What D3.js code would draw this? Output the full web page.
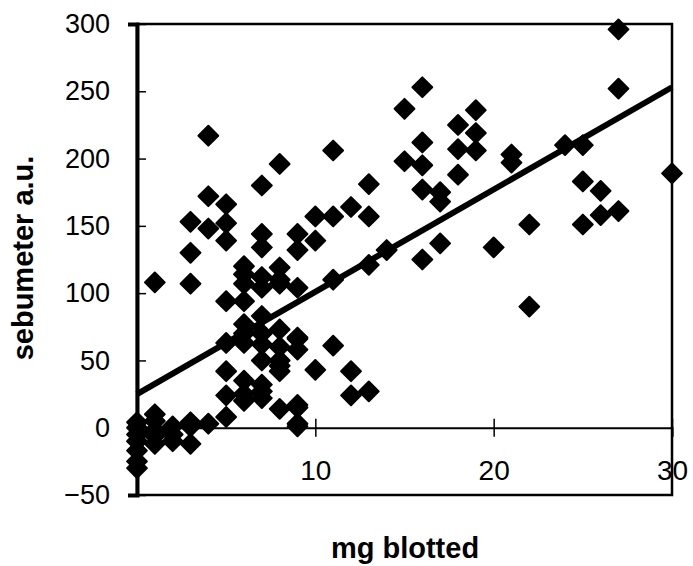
<!DOCTYPE html>
<html>
<head>
<meta charset="utf-8">
<script src="https://cdn.jsdelivr.net/npm/d3@7"></script>
<style>
  body { margin: 0; background: #fff; }
  svg { display: block; }
  text { font-family: "Liberation Sans", Arial, sans-serif; fill: #000; }
</style>
</head>
<body>
<div id="chart"></div>
<script>
// mg blotted (x) vs sebumeter reading (y)
let mgBlotted = [
    4, 8, 7, 4, 5, 3, 4, 5, 5, 3, 7, 7, 9, 9, 10, 10, 11, 12, 13, 13, 11, 1, 3,
    16, 15, 19, 18, 19, 16, 18, 19, 15, 16, 18, 16, 17, 17, 21, 21, 24, 25,
    27, 27, 30, 25, 26, 27, 26, 25, 22, 20, 22, 17, 16, 14, 13, 11,
    6, 6, 7, 8, 8, 9, 5, 6, 6, 8, 7,
    5, 6, 6, 7, 7, 8, 9, 9, 6, 8, 7,
    7, 8, 8, 5, 6, 7, 7, 5, 6, 6, 7, 8, 9, 9, 9, 8,
    10, 11, 12, 12, 13, 9,
    0, 0, 0, 0, 0, 0, 0, 1, 1, 1, 1, 1, 2, 2, 3, 3, 4, 5, 3, 2, 9
];
let sebumeter = [
    217, 196, 180, 172, 166, 153, 148, 152, 139, 130, 144, 134, 144, 132, 139, 157, 157, 164, 157, 181, 206, 108, 107,
    253, 237, 236, 225, 219, 212, 207, 206, 198, 195, 188, 177, 175, 168, 203, 197, 210, 210,
    296, 252, 189, 183, 176, 161, 158, 151, 151, 134, 90, 137, 125, 132, 121, 110,
    120, 107, 104, 119, 110, 104, 94, 94, 114, 107, 112,
    63, 63, 77, 83, 70, 73, 66, 58, 70, 60, 62,
    50, 50, 42, 42, 35, 27, 32, 24, 25, 20, 22, 14, 15, 3, 17, 46,
    43, 61, 42, 24, 27, 67,
    0, -5, -10, -17, -25, -30, 4, 10, 5, -2, -12, -6, 1, -10, 1, -12, 3, 8, 4, -5, 1
];

// fitted line
let fitIntercept = 25;
let fitSlope = 7.6;

let xTicks = [10, 20, 30];
let yTicks = [-50, 0, 50, 100, 150, 200, 250, 300];

let width = 693;
let height = 566;

let svg = d3.select('#chart').append('svg')
    .attr('width', width)
    .attr('height', height);

let xScale = d3.scaleLinear().domain([0, 30]).range([137, 672]);
let yScale = d3.scaleLinear().domain([-50, 300]).range([495, 24]);

// frame (top, right, bottom)
svg.append('rect')
    .attr('x', xScale(0))
    .attr('y', yScale(300))
    .attr('width', xScale(30) - xScale(0))
    .attr('height', yScale(-50) - yScale(300))
    .attr('fill', 'none')
    .attr('stroke', '#000')
    .attr('stroke-width', 2.5);

// x axis sits on y = 0
let xAxis = d3.axisBottom(xScale)
    .tickValues(xTicks)
    .tickSizeOuter(0)
    .tickSize(9)
    .tickPadding(23);

let xG = svg.append('g')
    .attr('transform', 'translate(0,' + yScale(0) + ')')
    .call(xAxis);
xG.select('.domain').attr('stroke', '#000').attr('stroke-width', 2);
xG.selectAll('.tick line').attr('y1', -9).attr('stroke', '#000').attr('stroke-width', 1.5);
xG.selectAll('.tick text')
    .style('font-size', '28px')
    .style('font-family', '"Liberation Sans", Arial, sans-serif')
    .attr('fill', '#000');

let yAxis = d3.axisLeft(yScale)
    .tickValues(yTicks)
    .tickSizeOuter(0)
    .tickSize(9)
    .tickPadding(18);

let yG = svg.append('g')
    .attr('transform', 'translate(' + xScale(0) + ',0)')
    .call(yAxis);
yG.select('.domain').attr('stroke', '#000').attr('stroke-width', 4);
yG.selectAll('.tick line').attr('x2', 9).attr('stroke', '#000').attr('stroke-width', 1.5);
yG.selectAll('.tick text')
    .style('font-size', '27px')
    .style('font-family', '"Liberation Sans", Arial, sans-serif')
    .attr('fill', '#000');

// regression line
svg.append('line')
    .attr('x1', xScale(0))
    .attr('y1', yScale(fitIntercept))
    .attr('x2', xScale(30))
    .attr('y2', yScale(fitIntercept + fitSlope * 30))
    .attr('stroke', '#000')
    .attr('stroke-width', 6);

// diamonds
let diamond = d3.symbol().type(d3.symbolSquare).size(196);
let points = mgBlotted.map((d, i) => ({ x: d, y: sebumeter[i] }));

svg.append('g').selectAll('path')
    .data(points)
    .enter()
    .append('path')
    .attr('d', diamond)
    .attr('transform', function (d) {
        return 'translate(' + xScale(d.x) + ',' + yScale(d.y) + ') rotate(45)';
    })
    .attr('fill', '#000')
    .attr('stroke', '#000')
    .attr('stroke-width', 2)
    .attr('stroke-linejoin', 'round');

// axis titles
svg.append('text')
    .attr('x', 405)
    .attr('y', 558)
    .attr('text-anchor', 'middle')
    .style('font-size', '29px')
    .style('font-weight', 'bold')
    .text('mg blotted');

svg.append('text')
    .attr('transform', 'translate(33,258) rotate(-90)')
    .attr('text-anchor', 'middle')
    .style('font-size', '29px')
    .style('font-weight', 'bold')
    .text('sebumeter a.u.');
</script>
</body>
</html>
